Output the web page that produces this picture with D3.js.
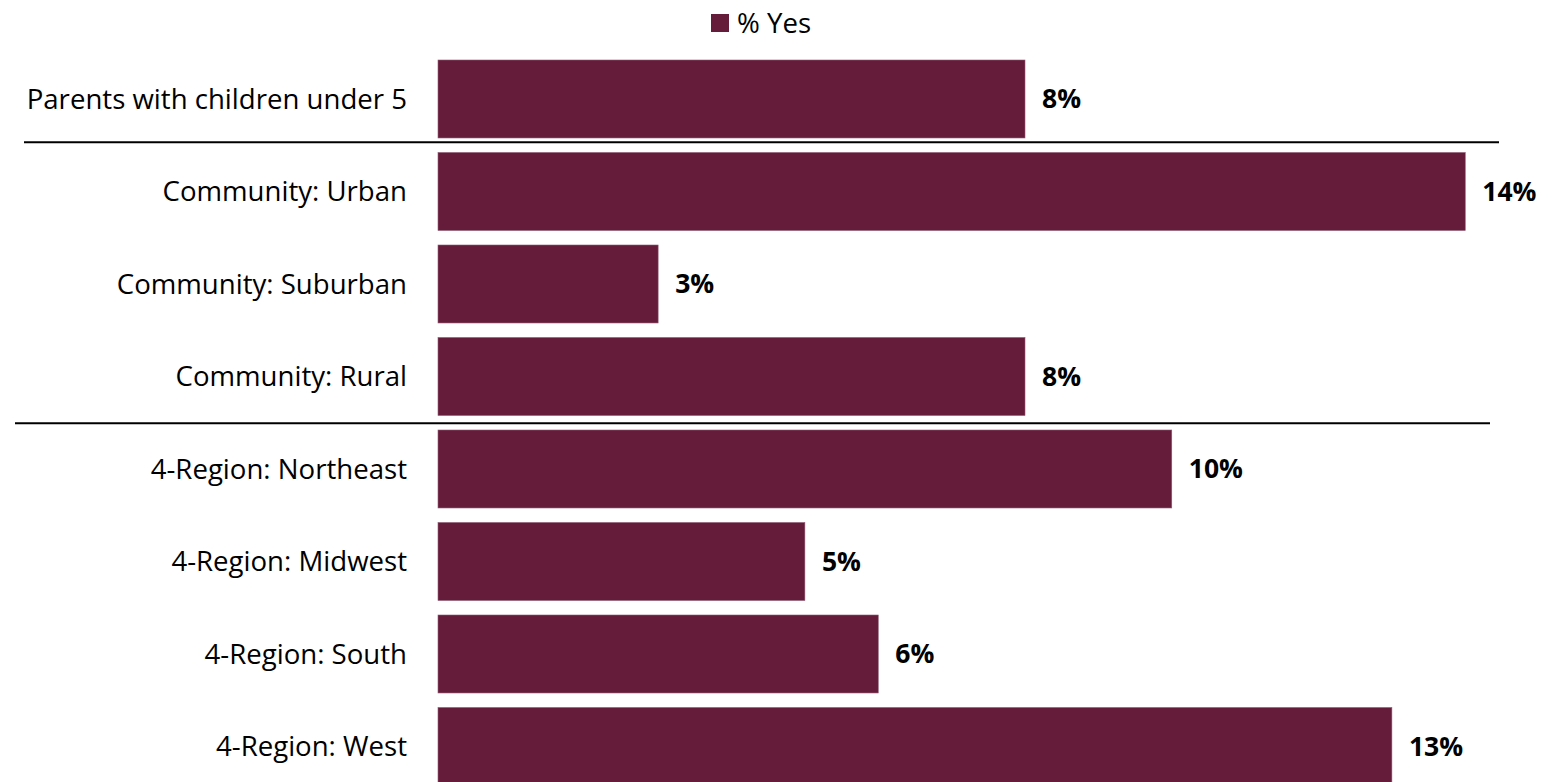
<!DOCTYPE html>
<html>
<head>
<meta charset="utf-8">
<script src="https://cdn.jsdelivr.net/npm/d3@7"></script>
<style>
  html, body { margin: 0; padding: 0; background: #fff; }
  svg { display: block; }
  text { font-family: "Open Sans", Lato, sans-serif; }
</style>
</head>
<body>
<div id="chartArea"></div>
<script>
// data
const categories = [
  "Parents with children under 5",
  "Community: Urban",
  "Community: Suburban",
  "Community: Rural",
  "4-Region: Northeast",
  "4-Region: Midwest",
  "4-Region: South",
  "4-Region: West"
];
const yesValues = [8, 14, 3, 8, 10, 5, 6, 13];
const valueLabels = ["8%", "14%", "3%", "8%", "10%", "5%", "6%", "13%"];
const seriesName = "% Yes";
// group breaks: a rule is drawn above these categories
const groupStarts = ["Community: Urban", "4-Region: Northeast"];

// colours
const barColor = "#651c3a";
const textColor = "#000";

const W = 1553, H = 782;

const svg = d3.select("#chartArea").append("svg")
  .attr("width", W)
  .attr("height", H);

const x = d3.scaleLinear()
  .domain([0, 14])
  .range([438, 1465.25]);

const y = d3.scaleBand()
  .domain(categories)
  .range([52.74, 792.74])
  .paddingInner(0.157)
  .paddingOuter(0.0785);

// bars
svg.selectAll("rect.bar")
  .data(categories)
  .enter()
  .append("rect")
    .attr("class", "bar")
    .attr("x", x(0))
    .attr("y", d => y(d))
    .attr("width", (d, i) => x(yesValues[i]) - x(0))
    .attr("height", y.bandwidth())
    .attr("fill", barColor)
    .attr("stroke", "#8f5a72")
    .attr("stroke-width", 0.6);

// category labels
svg.selectAll("text.cat")
  .data(categories)
  .enter()
  .append("text")
    .attr("class", "cat")
    .attr("x", x(0) - 31)
    .attr("y", d => y(d) + y.bandwidth() / 2)
    .attr("dy", "0.35em")
    .attr("text-anchor", "end")
    .attr("font-size", "27.6px")
    .attr("fill", textColor)
    .text(d => d);

// value labels
svg.selectAll("text.val")
  .data(categories)
  .enter()
  .append("text")
    .attr("class", "val")
    .attr("x", (d, i) => x(yesValues[i]) + 17)
    .attr("y", d => y(d) + y.bandwidth() / 2)
    .attr("dy", "0.35em")
    .attr("font-size", "26.5px")
    .attr("font-weight", "bold")
    .attr("fill", textColor)
    .text((d, i) => valueLabels[i]);

// group separators
const ruleExtents = [[24, 1499, -3], [15, 1490, 0.5]];
svg.selectAll("line.sep")
  .data(groupStarts)
  .enter()
  .append("line")
    .attr("class", "sep")
    .attr("x1", (d, i) => ruleExtents[i][0])
    .attr("x2", (d, i) => ruleExtents[i][1])
    .attr("y1", (d, i) => y(d) - y.step() * y.paddingInner() / 2 + ruleExtents[i][2])
    .attr("y2", (d, i) => y(d) - y.step() * y.paddingInner() / 2 + ruleExtents[i][2])
    .attr("stroke", "#000")
    .attr("stroke-width", 2);

// legend
const legend = svg.append("g").attr("transform", "translate(711,14)");
legend.append("rect")
  .attr("width", 18)
  .attr("height", 18)
  .attr("fill", barColor);
legend.append("text")
  .attr("x", 26)
  .attr("y", 9)
  .attr("dy", "0.35em")
  .attr("font-size", "27.6px")
  .attr("fill", textColor)
  .text(seriesName);
</script>
</body>
</html>
